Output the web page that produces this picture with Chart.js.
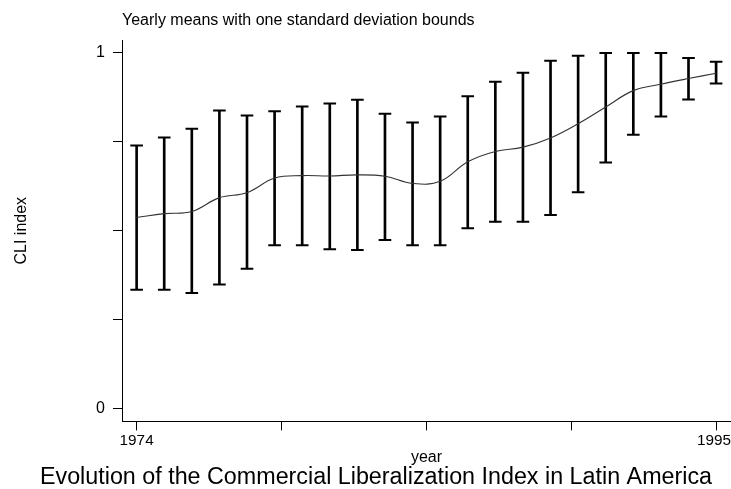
<!DOCTYPE html>
<html>
<head>
<meta charset="utf-8">
<title>CLI index by year</title>
<script src="https://cdn.jsdelivr.net/npm/chart.js@4.4.1/dist/chart.umd.min.js"></script>
<style>
  html, body { margin: 0; padding: 0; background: #fff; }
</style>
</head>
<body>
<canvas id="cli-chart" width="731" height="489"></canvas>
<script>
// yearly mean of the index and the one-sd band around it (upper end capped at 1)
const years = [1974, 1975, 1976, 1977, 1978, 1979, 1980, 1981, 1982, 1983, 1984,
               1985, 1986, 1987, 1988, 1989, 1990, 1991, 1992, 1993, 1994, 1995];
const means = [0.537, 0.548, 0.554, 0.593, 0.607, 0.648, 0.655, 0.654, 0.657, 0.653, 0.633,
               0.639, 0.694, 0.723, 0.735, 0.761, 0.801, 0.848, 0.894, 0.912, 0.928, 0.943];
const lower = [0.334, 0.334, 0.325, 0.349, 0.393, 0.459, 0.459, 0.448, 0.446, 0.474, 0.459,
               0.459, 0.507, 0.525, 0.525, 0.544, 0.608, 0.692, 0.770, 0.821, 0.869, 0.914];
const upper = [0.740, 0.762, 0.787, 0.838, 0.824, 0.836, 0.849, 0.858, 0.868, 0.829, 0.804,
               0.821, 0.878, 0.919, 0.944, 0.978, 0.992, 1.000, 1.000, 1.000, 0.986, 0.975];

const xTickValues = [1974, 1979.25, 1984.5, 1989.75, 1995];
// trailing space nudges the last label inside the canvas edge
const xTickLabels = ['1974', '', '', '', '1995 '];
const yTickValues = [0, 0.25, 0.5, 0.75, 1];
const yTickLabels = ['0', '', '', '', '1'];

const FONT = "'Liberation Sans', Arial, Helvetica, sans-serif";

// main caption sits under the x axis, not centred on the canvas
const captionPlugin = {
    id: 'caption',
    afterDraw(chart, args, opts) {
        const ctx = chart.ctx;
        ctx.save();
        ctx.font = opts.size + 'px ' + FONT;
        ctx.fillStyle = opts.color;
        ctx.textAlign = 'center';
        ctx.textBaseline = 'alphabetic';
        ctx.fillText(opts.text, opts.x, opts.y);
        ctx.restore();
    }
};

const capStyle = {
    type: 'line',
    showLine: false,
    pointStyle: 'line',
    pointRadius: 6.3,
    pointHoverRadius: 6.3,
    pointBorderWidth: 2,
    pointBorderColor: '#000',
    order: 1
};

new Chart(document.getElementById('cli-chart'), {
    type: 'scatter',
    data: {
        datasets: [
            {
                type: 'line',
                label: 'mean',
                data: years.map((x, i) => ({ x, y: means[i] })),
                borderColor: '#333',
                borderWidth: 1.1,
                pointRadius: 0,
                tension: 0.4,
                fill: false,
                order: 0
            },
            {
                type: 'bar',
                label: 'band',
                data: years.map((x, i) => ({ x, y: [lower[i], upper[i]] })),
                backgroundColor: '#000',
                borderWidth: 0,
                barThickness: 2,
                order: 2
            },
            { ...capStyle, label: 'upper', data: years.map((x, i) => ({ x, y: upper[i] })) },
            { ...capStyle, label: 'lower', data: years.map((x, i) => ({ x, y: lower[i] })) }
        ]
    },
    options: {
        responsive: false,
        animation: false,
        layout: { autoPadding: false, padding: { left: 0, right: 0, top: 0, bottom: 23.3 } },
        scales: {
            x: {
                type: 'linear',
                min: 1973.47,
                max: 1995.54,
                offset: false,
                afterBuildTicks: axis => { axis.ticks = xTickValues.map(v => ({ value: v })); },
                afterFit: axis => { axis.paddingLeft = 0; axis.paddingRight = 0; },
                ticks: {
                    autoSkip: false,
                    maxRotation: 0,
                    padding: 2.5,
                    color: '#000',
                    font: { family: FONT, size: 15.3, lineHeight: 1 },
                    callback: (v, i) => xTickLabels[i]
                },
                grid: { offset: false, drawOnChartArea: false, drawTicks: true, tickLength: 9, color: '#000' },
                border: { display: true, color: '#000', width: 1 },
                title: {
                    display: true,
                    text: 'year',
                    color: '#000',
                    font: { family: FONT, size: 16, lineHeight: 1 },
                    padding: { top: -1, bottom: 0 }
                }
            },
            y: {
                type: 'linear',
                min: -0.0364,
                max: 1.0364,
                afterBuildTicks: axis => { axis.ticks = yTickValues.map(v => ({ value: v })); },
                afterFit: axis => { axis.width = 122; },
                ticks: {
                    autoSkip: false,
                    padding: 8,
                    color: '#000',
                    font: { family: FONT, size: 16, lineHeight: 1 },
                    callback: (v, i) => yTickLabels[i]
                },
                grid: { offset: false, drawOnChartArea: false, drawTicks: true, tickLength: 9, color: '#000' },
                border: { display: true, color: '#000', width: 1 },
                title: {
                    display: true,
                    text: 'CLI index',
                    color: '#000',
                    font: { family: FONT, size: 16, lineHeight: 1 },
                    padding: { top: 14, bottom: 0 }
                }
            }
        },
        plugins: {
            legend: { display: false },
            tooltip: { enabled: false },
            subtitle: {
                display: true,
                text: 'Yearly means with one standard deviation bounds',
                position: 'top',
                align: 'start',
                fullSize: false,
                color: '#000',
                font: { family: FONT, size: 16, weight: 'normal' },
                padding: { top: 10.5, bottom: 10.3 }
            },
            caption: {
                text: 'Evolution of the Commercial Liberalization Index in Latin America',
                size: 23.3,
                color: '#000',
                x: 376,
                y: 484
            }
        }
    },
    plugins: [captionPlugin]
});
</script>
</body>
</html>
